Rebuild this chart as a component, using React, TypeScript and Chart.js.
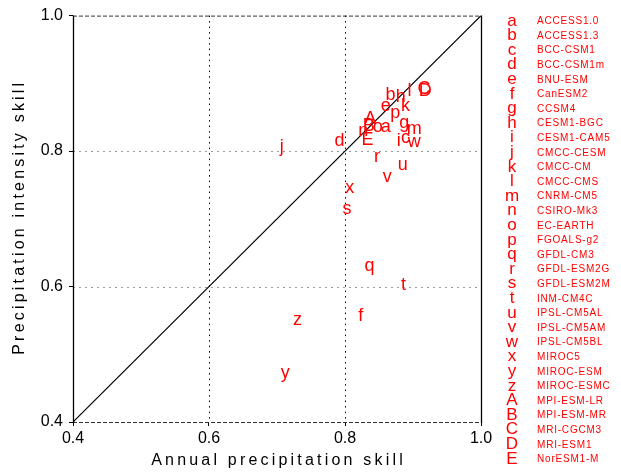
import React, { useEffect, useRef } from 'react';
import { Chart, registerables } from 'chart.js';

Chart.register(...registerables);

const letters = ['a','b','c','d','e','f','g','h','i','j','k','l','m','n','o','p','q','r','s','t','u','v','w','x','y','z','A','B','C','D','E'];
const models = ['ACCESS1.0','ACCESS1.3','BCC-CSM1','BCC-CSM1m','BNU-ESM','CanESM2','CCSM4','CESM1-BGC','CESM1-CAM5','CMCC-CESM','CMCC-CM','CMCC-CMS','CNRM-CM5','CSIRO-Mk3','EC-EARTH','FGOALS-g2','GFDL-CM3','GFDL-ESM2G','GFDL-ESM2M','INM-CM4C','IPSL-CM5AL','IPSL-CM5AM','IPSL-CM5BL','MIROC5','MIROC-ESM','MIROC-ESMC','MPI-ESM-LR','MPI-ESM-MR','MRI-CGCM3','MRI-ESM1','NorESM1-M'];
// Annual precipitation skill (x)
const annualSkill = [0.860,0.867,0.889,0.792,0.860,0.823,0.887,0.882,0.879,0.707,0.889,0.895,0.902,0.827,0.848,0.874,0.836,0.847,0.803,0.886,0.885,0.862,0.902,0.807,0.712,0.730,0.837,0.835,0.916,0.918,0.833];
// Precipitation intensity skill (y)
const intensitySkill = [0.836,0.883,0.819,0.815,0.866,0.556,0.841,0.880,0.815,0.806,0.866,0.889,0.832,0.830,0.836,0.856,0.631,0.791,0.714,0.602,0.779,0.761,0.814,0.746,0.472,0.551,0.847,0.837,0.891,0.889,0.816];
const axisMin = 0.4;
const axisMax = 1.0;
const axisStep = 0.2;
const gridValues = [0.6, 0.8];
const xTitle = 'Annual precipitation skill';
const yTitle = 'Precipitation intensity skill';

const FONT = '"Liberation Sans", Arial, sans-serif';

const overlay = {
  id: 'overlay',
  beforeDatasetsDraw(chart: any) {
    const { ctx, chartArea: ca, scales } = chart;
    const xs = scales.x, ys = scales.y;
    ctx.save();
    // vertical dotted grid (black)
    ctx.lineWidth = 1;
    ctx.strokeStyle = '#000';
    ctx.setLineDash([1.5, 4]);
    gridValues.forEach((v) => {
      const px = Math.round(xs.getPixelForValue(v)) + 0.5;
      ctx.beginPath();
      ctx.moveTo(px, ca.top);
      ctx.lineTo(px, ca.bottom);
      ctx.stroke();
    });
    // horizontal dotted grid (grey)
    ctx.strokeStyle = '#9a9a9a';
    ctx.setLineDash([2, 4]);
    gridValues.forEach((v) => {
      const py = Math.round(ys.getPixelForValue(v)) + 0.5;
      ctx.beginPath();
      ctx.moveTo(ca.left, py);
      ctx.lineTo(ca.right, py);
      ctx.stroke();
    });
    ctx.restore();
  },
  afterDatasetsDraw(chart: any) {
    const { ctx, chartArea: ca } = chart;
    ctx.save();
    // borders: dashed top/bottom, solid left/right
    ctx.lineWidth = 1;
    ctx.strokeStyle = '#333';
    ctx.setLineDash([4, 2]);
    ctx.beginPath();
    ctx.moveTo(ca.left, ca.top + 0.5);
    ctx.lineTo(ca.right, ca.top + 0.5);
    ctx.moveTo(ca.left, ca.bottom + 0.5);
    ctx.lineTo(ca.right, ca.bottom + 0.5);
    ctx.stroke();
    ctx.setLineDash([]);
    ctx.strokeStyle = '#000';
    ctx.lineWidth = 1.3;
    ctx.beginPath();
    ctx.moveTo(ca.left + 0.5, ca.top);
    ctx.lineTo(ca.left + 0.5, ca.bottom + 1);
    ctx.moveTo(ca.right + 0.5, ca.top);
    ctx.lineTo(ca.right + 0.5, ca.bottom + 1);
    ctx.stroke();

    // letters at points
    const meta = chart.getDatasetMeta(1);
    ctx.fillStyle = 'rgb(255,0,0)';
    ctx.font = `18px ${FONT}`;
    ctx.textAlign = 'center';
    ctx.textBaseline = 'middle';
    meta.data.forEach((el: any, i: number) => {
      ctx.fillText(letters[i], el.x, el.y);
    });
    ctx.restore();
  },
  afterDraw(chart: any) {
    const { ctx, chartArea: ca } = chart;
    ctx.save();
    ctx.fillStyle = '#000';
    ctx.font = `16px ${FONT}`;
    (ctx as any).letterSpacing = '3.2px';
    ctx.textAlign = 'center';
    ctx.textBaseline = 'middle';
    ctx.fillText(xTitle, (ca.left + ca.right) / 2 + 1.6, 461);
    ctx.save();
    ctx.translate(20, (ca.top + ca.bottom) / 2);
    ctx.rotate(-Math.PI / 2);
    ctx.fillText(yTitle, 1.6, 0);
    ctx.restore();

    // legend
    ctx.fillStyle = 'rgb(255,0,0)';
    letters.forEach((l, i) => {
      const y = 21 + i * 14.6;
      (ctx as any).letterSpacing = '0px';
      ctx.font = `17px ${FONT}`;
      ctx.textAlign = 'center';
      ctx.fillText(l, 512, y);
      (ctx as any).letterSpacing = '0.8px';
      ctx.font = `10px ${FONT}`;
      ctx.textAlign = 'left';
      ctx.fillText(models[i], 537, y + 0.5);
    });
    ctx.restore();
  },
};

export default function App() {
  const ref = useRef<HTMLCanvasElement | null>(null);
  useEffect(() => {
    if (!ref.current) return;
    const points = annualSkill.map((x, i) => ({ x, y: intensitySkill[i] }));
    const axisOpts = (isY: boolean) => ({
      type: 'linear' as const,
      min: axisMin,
      max: axisMax,
      ticks: {
        stepSize: axisStep,
        color: '#000',
        padding: isY ? 6 : 3,
        font: { family: FONT, size: 16 },
        callback: (v: any) => Number(v).toFixed(1),
      },
      grid: {
        drawOnChartArea: false,
        drawTicks: true,
        tickLength: 4,
        tickColor: '#000',
        tickWidth: 1,
      },
      border: { display: false },
      afterFit: (s: any) => {
        if (isY) s.width = 73;
        else s.height = 50;
      },
    });
    const chart = new Chart(ref.current, {
      type: 'scatter',
      data: {
        datasets: [
          {
            data: [
              { x: axisMin, y: axisMin },
              { x: axisMax, y: axisMax },
            ],
            showLine: true,
            borderColor: '#000',
            borderWidth: 1.2,
            pointRadius: 0,
          },
          {
            data: points,
            pointRadius: 0,
            backgroundColor: 'rgba(0,0,0,0)',
            borderColor: 'rgba(0,0,0,0)',
          },
        ],
      },
      options: {
        animation: false,
        responsive: false,
        devicePixelRatio: 1,
        layout: { padding: { left: 0, right: 140, top: 15, bottom: 0 } },
        plugins: { legend: { display: false }, tooltip: { enabled: false } },
        events: [],
        scales: { x: axisOpts(false), y: axisOpts(true) },
      },
      plugins: [overlay],
    });
    return () => chart.destroy();
  }, []);
  return (
    <div style={{ position: 'fixed', left: 0, top: 0, width: 621, height: 472, background: '#fff' }}>
      <canvas ref={ref} width={621} height={472} style={{ width: 621, height: 472 }} />
    </div>
  );
}
